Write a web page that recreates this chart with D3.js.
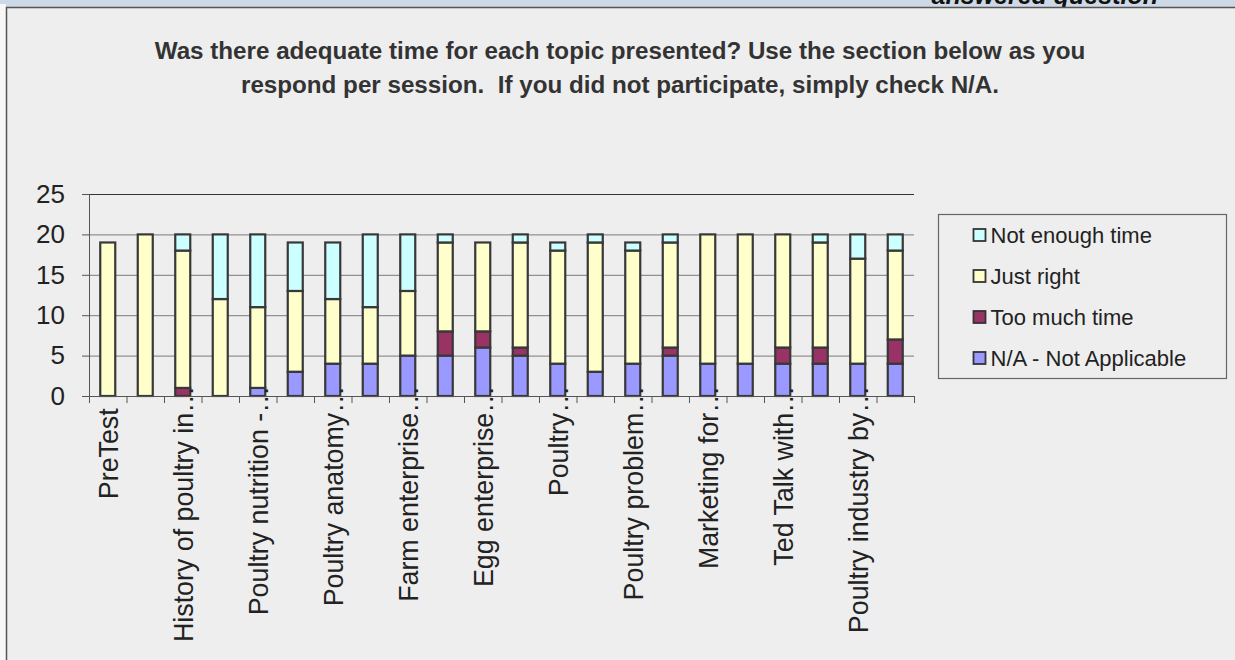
<!DOCTYPE html>
<html>
<head>
<meta charset="utf-8">
<script src="https://cdn.jsdelivr.net/npm/d3@7"></script>
<style>
  html, body { margin: 0; padding: 0; background: #f7f7f7; }
  svg { display: block; font-family: "Liberation Sans", Arial, sans-serif; }
</style>
</head>
<body>
<svg id="chart" width="1235" height="660"></svg>
<script>
// values, one entry per session (22 sessions)
var tickLabels = ["PreTest   ", "", "History of poultry in\u2026", "", "Poultry nutrition -\u2026", "",
    "Poultry anatomy\u2026", "", "Farm enterprise\u2026", "", "Egg enterprise\u2026", "",
    "Poultry\u2026", "", "Poultry problem\u2026", "", "Marketing for\u2026", "",
    "Ted Talk with\u2026", "", "Poultry industry by\u2026", ""];
var notApplicable = [0, 0, 0, 0, 1, 3, 4, 4, 5, 5, 6, 5, 4, 3, 4, 5, 4, 4, 4, 4, 4, 4];
var tooMuchTime   = [0, 0, 1, 0, 0, 0, 0, 0, 0, 3, 2, 1, 0, 0, 0, 1, 0, 0, 2, 2, 0, 3];
var justRight     = [19, 20, 17, 12, 10, 10, 8, 7, 8, 11, 11, 13, 14, 16, 14, 13, 16, 16, 14, 13, 13, 11];
var notEnoughTime = [0, 0, 2, 8, 9, 6, 7, 9, 7, 1, 0, 1, 1, 1, 1, 1, 0, 0, 0, 1, 3, 2];
var seriesNames = ["N/A - Not Applicable", "Too much time", "Just right", "Not enough time"];
var yTicks = [0, 5, 10, 15, 20, 25];
var titleLines = ["Was there adequate time for each topic presented? Use the section below as you",
    "respond per session.  If you did not participate, simply check N/A."];

var colors = ["#9999ff", "#993366", "#ffffcc", "#ccffff"];

var svg = d3.select("#chart");
var margin = {top: 194, right: 321, bottom: 264, left: 89};
var width = +svg.attr("width") - margin.left - margin.right;
var height = +svg.attr("height") - margin.top - margin.bottom;

// header strip and panel
svg.append("rect").attr("width", 1235).attr("height", 8).attr("fill", "#cdd9e6");
svg.append("rect").attr("y", 4).attr("width", 6).attr("height", 656).attr("fill", "#f7f7f7");
svg.append("text")
    .attr("x", 1158).attr("y", 4)
    .attr("text-anchor", "end")
    .style("font-size", "25px").style("font-weight", "bold").style("font-style", "italic")
    .attr("fill", "#111")
    .text("answered question");
svg.append("rect")
    .attr("x", 6.5).attr("y", 7.5).attr("width", 1240).attr("height", 660)
    .attr("fill", "#eeeeee").attr("stroke", "#555").attr("stroke-width", 1.5);

svg.append("g").selectAll("text")
    .data(titleLines)
    .enter().append("text")
    .attr("x", 620)
    .attr("y", function (d, i) { return 58.5 + i * 34; })
    .attr("text-anchor", "middle")
    .style("font-size", "24.2px")
    .style("font-weight", "bold")
    .style("white-space", "pre")
    .attr("fill", "#333")
    .text(function (d) { return d; });

var g = svg.append("g").attr("transform", "translate(" + margin.left + "," + margin.top + ")");

var idx = d3.range(tickLabels.length);
var x = d3.scaleBand().domain(idx).range([0, width]).paddingInner(0.6).paddingOuter(0.3);
var xEdge = d3.scaleLinear().domain([0, idx.length]).range([0, width]);
var y = d3.scaleLinear().domain([0, 25]).range([height, 0]);

// gridlines
g.append("g")
    .attr("class", "grid")
    .call(d3.axisLeft(y).tickValues(yTicks).tickSize(-width).tickFormat(""))
    .call(function (s) {
        s.select(".domain").remove();
        s.selectAll("line").attr("stroke", function (d) { return d === 25 ? "#333" : "#7a7a7a"; });
    });

// y axis
g.append("g")
    .call(d3.axisLeft(y).tickValues(yTicks).tickSize(7).tickPadding(17))
    .call(function (s) {
        s.select(".domain").attr("stroke", "#555");
        s.selectAll("line").attr("stroke", "#555");
        s.selectAll("text").style("font-size", "26px").attr("fill", "#222")
            .style("font-family", "'Liberation Sans', Arial, sans-serif");
    });

// stacked bars
var rows = idx.map(function (i) {
    return {i: i, s0: notApplicable[i], s1: tooMuchTime[i], s2: justRight[i], s3: notEnoughTime[i]};
});
var stack = d3.stack().keys(["s0", "s1", "s2", "s3"]);
var layers = stack(rows);

g.append("g").selectAll("g")
    .data(layers)
    .enter().append("g")
    .attr("fill", function (d, k) { return colors[k]; })
    .selectAll("rect")
    .data(function (d) { return d.filter(function (p) { return p[1] > p[0]; }); })
    .enter().append("rect")
    .attr("x", function (d) { return x(d.data.i); })
    .attr("width", x.bandwidth())
    .attr("y", function (d) { return y(d[1]); })
    .attr("height", function (d) { return y(d[0]) - y(d[1]); })
    .attr("stroke", "#383838")
    .attr("stroke-width", 2.2);

// x axis with ticks on category boundaries
g.append("g")
    .attr("transform", "translate(0," + height + ")")
    .call(d3.axisBottom(xEdge).tickValues(d3.range(idx.length + 1)).tickSize(7).tickFormat(""))
    .call(function (s) {
        s.select(".domain").attr("stroke", "#555");
        s.selectAll("line").attr("stroke", "#555");
    });

g.append("g").selectAll("text")
    .data(idx.filter(function (i) { return tickLabels[i] !== ""; }))
    .enter().append("text")
    .attr("transform", function (i) {
        return "translate(" + (x(i) + x.bandwidth() / 2) + "," + (height - 10) + ") rotate(-90) scale(1,1.04)";
    })
    .attr("dy", "0.36em")
    .attr("text-anchor", "end")
    .style("font-size", "26.8px")
    .style("white-space", "pre")
    .attr("fill", "#222")
    .text(function (i) { return tickLabels[i]; });

// legend
var legend = svg.append("g").attr("transform", "translate(938.5,214.5)");
legend.append("rect")
    .attr("width", 288).attr("height", 164)
    .attr("fill", "#eeeeee").attr("stroke", "#666").attr("stroke-width", 1.2);

var items = legend.selectAll("g.item")
    .data([3, 2, 1, 0])
    .enter().append("g")
    .attr("class", "item")
    .attr("transform", function (d, k) { return "translate(35," + (20.5 + k * 41) + ")"; });
items.append("rect")
    .attr("x", 0).attr("y", -6).attr("width", 12).attr("height", 12)
    .attr("fill", function (d) { return colors[d]; })
    .attr("stroke", "#333").attr("stroke-width", 1.8);
items.append("text")
    .attr("x", 17).attr("dy", "0.36em")
    .style("font-size", "22px")
    .attr("fill", "#222")
    .text(function (d) { return seriesNames[d]; });
</script>
</body>
</html>
